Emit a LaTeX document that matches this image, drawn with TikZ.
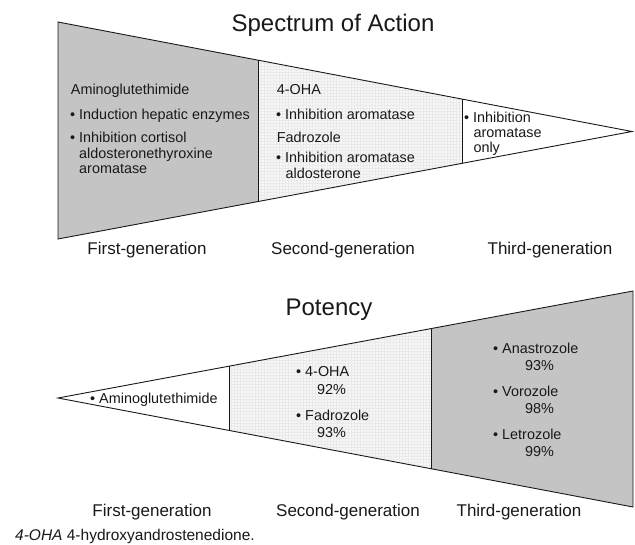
\documentclass[tikz,border=0pt]{standalone}
\usepackage{fontspec}
\setmainfont{Liberation Sans}
\usetikzlibrary{calc}
\definecolor{darkfill}{RGB}{196,196,196}
\definecolor{lightfill}{RGB}{247,247,247}
\definecolor{gridcol}{RGB}{234,234,234}
\definecolor{ink}{RGB}{25,25,25}
\begin{document}
\begin{tikzpicture}[x=1pt,y=-1pt,
  txt/.style={anchor=base west,inner sep=0pt,text=ink,font=\fontsize{14.4}{16}\selectfont},
  genlabel/.style={anchor=base,inner sep=0pt,text=ink,font=\fontsize{17}{20}\selectfont},
  ttl/.style={anchor=base,inner sep=0pt,text=ink,font=\fontsize{24}{28}\selectfont},
  outline/.style={draw=ink,line width=0.9pt,line join=miter},
  gridlines/.style={draw=gridcol,line width=0.3pt},
  ]
\useasboundingbox (0,0) rectangle (635,544);
\fill[white] (0,0) rectangle (635,544);

% ---------- Spectrum of Action ----------
\coordinate (tl) at (58,22);
\coordinate (bl) at (58,239);
\coordinate (ap) at (632,131.5);
\coordinate (t1) at ($(tl)!0.350!(ap)$);
\coordinate (b1) at ($(bl)!0.350!(ap)$);
\coordinate (t2) at ($(tl)!0.704!(ap)$);
\coordinate (b2) at ($(bl)!0.704!(ap)$);

\fill[darkfill] (tl) -- (t1) -- (b1) -- (bl) -- cycle;
\fill[lightfill] (t1) -- (t2) -- (b2) -- (b1) -- cycle;
\begin{scope}
  \clip (t1) -- (t2) -- (b2) -- (b1) -- cycle;
  \draw[gridlines,step=3pt] (255,55) grid (465,205);
\end{scope}
\draw[outline] (tl) -- (ap) -- (bl) -- cycle;
\draw[outline] (t1) -- (b1);
\draw[outline] (t2) -- (b2);

\node[ttl] (title1) at (333,31.5) {Spectrum of Action};

\node[txt] (a1) at (70.7,94.3) {Aminoglutethimide};
\node[txt] (a2) at (70,119) {\textbullet\ Induction hepatic enzymes};
\node[txt] (a3) at (70,142.7) {\textbullet\ Inhibition cortisol};
\node[txt] (a4) at (79,158.3) {aldosteronethyroxine};
\node[txt] (a5) at (79,173.5) {aromatase};

\node[txt] (s1) at (276.7,94.3) {4-OHA};
\node[txt] (s2) at (276,119) {\textbullet\ Inhibition aromatase};
\node[txt] (s3) at (276.7,142.7) {Fadrozole};
\node[txt] (s4) at (276,162) {\textbullet\ Inhibition aromatase};
\node[txt] (s5) at (285.5,178.5) {aldosterone};

\node[txt] (h1) at (464,122) {\textbullet\ Inhibition};
\node[txt] (h2) at (473.3,137.8) {aromatase};
\node[txt] (h3) at (473.3,152.7) {only};

\node[genlabel] (g1) at (147,254) {First-generation};
\node[genlabel] (g2) at (343,254) {Second-generation};
\node[genlabel] (g3) at (550,254) {Third-generation};

% ---------- Potency ----------
\coordinate (pa) at (58,398);
\coordinate (tr) at (633,291);
\coordinate (br) at (633,507);
\coordinate (u1) at ($(pa)!0.299!(tr)$);
\coordinate (d1) at ($(pa)!0.299!(br)$);
\coordinate (u2) at ($(pa)!0.650!(tr)$);
\coordinate (d2) at ($(pa)!0.650!(br)$);

\fill[lightfill] (u1) -- (u2) -- (d2) -- (d1) -- cycle;
\begin{scope}
  \clip (u1) -- (u2) -- (d2) -- (d1) -- cycle;
  \draw[gridlines,step=3pt] (225,320) grid (440,475);
\end{scope}
\fill[darkfill] (u2) -- (tr) -- (br) -- (d2) -- cycle;
\draw[outline] (pa) -- (tr) -- (br) -- cycle;
\draw[outline] (u1) -- (d1);
\draw[outline] (u2) -- (d2);

\node[ttl] (title2) at (329,315) {Potency};

\node[txt] (p1) at (90,403) {\textbullet\ Aminoglutethimide};

\node[txt] (q1) at (296,376) {\textbullet\ 4-OHA};
\node[txt] (q2) at (317,394) {92\%};
\node[txt] (q3) at (296,420) {\textbullet\ Fadrozole};
\node[txt] (q4) at (317,437) {93\%};

\node[txt] (r1) at (493,353.3) {\textbullet\ Anastrozole};
\node[txt] (r2) at (525,370.7) {93\%};
\node[txt] (r3) at (493,396) {\textbullet\ Vorozole};
\node[txt] (r4) at (525,413.3) {98\%};
\node[txt] (r5) at (493,439.3) {\textbullet\ Letrozole};
\node[txt] (r6) at (525,456.7) {99\%};

\node[genlabel] (k1) at (152,516.7) {First-generation};
\node[genlabel] (k2) at (348,516.7) {Second-generation};
\node[genlabel] (k3) at (519,516.7) {Third-generation};

\node[anchor=base west,inner sep=0pt,text=ink,font=\fontsize{15.5}{18}\selectfont] (fn) at (15,540) {\textit{4-OHA} 4-hydroxyandrostenedione.};
\end{tikzpicture}
\end{document}
